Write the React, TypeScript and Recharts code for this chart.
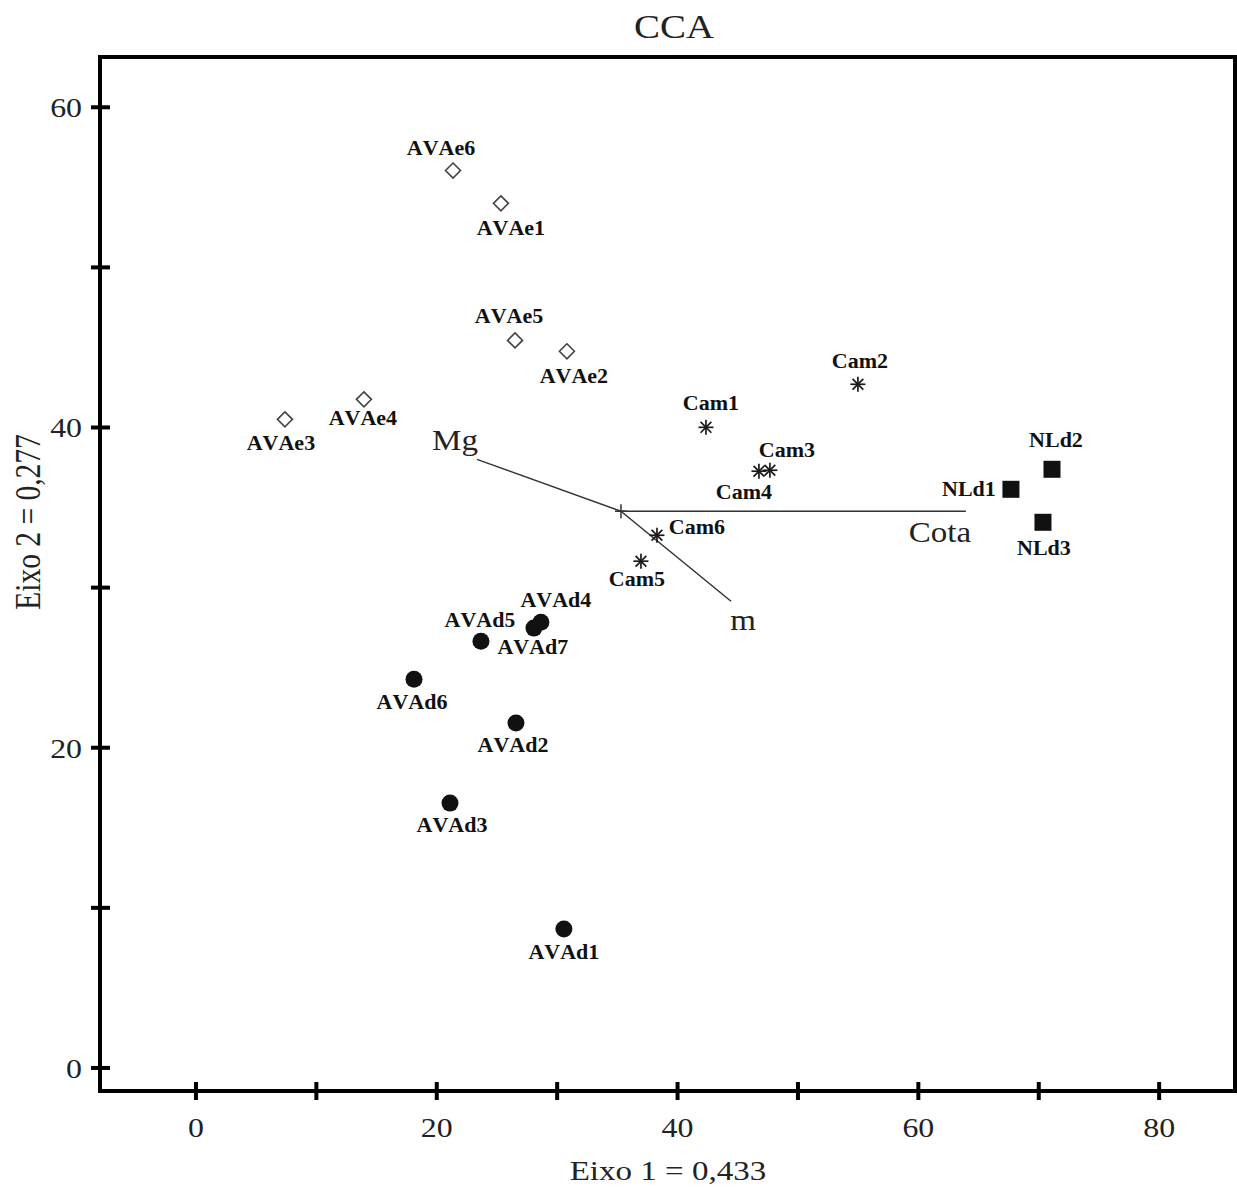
import { ReferenceLine, Scatter, ScatterChart, XAxis, YAxis } from "recharts";

const FONT = '"Liberation Serif", "Times New Roman", serif';
const INK = "#111";
const STRETCH = 1.18; // the source type is set a little wide

const xTicks = [0, 10, 20, 30, 40, 50, 60, 70, 80];
const yTicks = [0, 10, 20, 30, 40, 50, 60];
const xLabeled = [0, 20, 40, 60, 80];
const yLabeled = [0, 20, 40, 60];

// sites, grouped the way the plot marks them
const avaeNames = ["AVAe6", "AVAe1", "AVAe5", "AVAe2", "AVAe4", "AVAe3"];
const avaeX = [21.35, 25.33, 26.5, 30.81, 13.95, 7.39];
const avaeY = [56.05, 54.0, 45.44, 44.76, 41.76, 40.51];

const camNames = ["Cam1", "Cam2", "Cam3", "Cam4", "Cam6", "Cam5"];
const camX = [42.36, 54.98, 47.67, 46.76, 38.29, 36.96];
const camY = [40.01, 42.7, 37.33, 37.27, 33.27, 31.65];

const nldNames = ["NLd1", "NLd2", "NLd3"];
const nldX = [67.69, 71.1, 70.35];
const nldY = [36.14, 37.39, 34.08];

const avadNames = ["AVAd4", "AVAd7", "AVAd5", "AVAd6", "AVAd2", "AVAd3", "AVAd1"];
const avadX = [28.65, 28.07, 23.67, 18.11, 26.58, 21.1, 30.56];
const avadY = [27.84, 27.47, 26.65, 24.28, 21.54, 16.54, 8.68];

// environmental vectors (biplot arrows)
const vectorOrigin = { x: 35.3, y: 34.77 };
const vectorNames = ["Mg", "m", "Cota"];
const vectorX = [23.34, 44.44, 63.95];
const vectorY = [38.01, 29.15, 34.77];

// where each label sits relative to its mark (px)
const labelOffset: Record<string, [number, number]> = {
  AVAe6: [-12, -22],
  AVAe1: [10, 25],
  AVAe5: [-6, -24],
  AVAe2: [7, 25],
  AVAe4: [-1, 19],
  AVAe3: [-4, 24],
  Cam1: [5, -24],
  Cam2: [2, -23],
  Cam3: [17, -20],
  Cam4: [-15, 21],
  Cam6: [40, -8],
  Cam5: [-4, 18],
  NLd1: [-42, 0],
  NLd2: [4, -29],
  NLd3: [1, 26],
  AVAd4: [15, -22],
  AVAd7: [-1, 19],
  AVAd5: [-1, -21],
  AVAd6: [-2, 23],
  AVAd2: [-3, 22],
  AVAd3: [2, 22],
  AVAd1: [0, 23],
  Mg: [-22, -19],
  m: [12, 19],
  Cota: [-26, 21],
};

const X_MIN = -7.97;
const X_MAX = 86.3;
const Y_MIN = -1.44;
const Y_MAX = 63.14;

const zip = (names: string[], xs: number[], ys: number[]) =>
  names.map((name, i) => ({ name, x: xs[i], y: ys[i] }));

const avae = zip(avaeNames, avaeX, avaeY);
const cam = zip(camNames, camX, camY);
const nld = zip(nldNames, nldX, nldY);
const avad = zip(avadNames, avadX, avadY);
const vectors = zip(vectorNames, vectorX, vectorY);

const widen = (x: number, k: number) => `translate(${x} 0) scale(${k} 1) translate(${-x} 0)`;

function PointLabel({ cx, cy, name }: { cx: number; cy: number; name: string }) {
  const [dx, dy] = labelOffset[name] ?? [0, 20];
  return (
    <text
      x={cx + dx}
      y={cy + dy}
      textAnchor="middle"
      dominantBaseline="central"
      fontFamily={FONT}
      fontWeight="bold"
      fontSize={20}
      fill={INK}
      stroke="none"
      transform={widen(cx + dx, 1.1)}
      style={{ fontKerning: "none" }}
    >
      {name}
    </text>
  );
}

const diamondShape = (p: any) => {
  const { cx, cy, payload } = p;
  const h = 7.5;
  return (
    <g>
      <polygon
        points={`${cx},${cy - h} ${cx + h},${cy} ${cx},${cy + h} ${cx - h},${cy}`}
        fill="#fff"
        stroke="#444"
        strokeWidth={1.6}
      />
      <PointLabel cx={cx} cy={cy} name={payload.name} />
    </g>
  );
};

const asteriskShape = (p: any) => {
  const { cx, cy, payload } = p;
  const r = 7.5;
  const d = r * 0.72;
  return (
    <g>
      <g stroke="#1a1a1a" strokeWidth={1.7}>
        <line x1={cx} y1={cy - r} x2={cx} y2={cy + r} />
        <line x1={cx - r} y1={cy} x2={cx + r} y2={cy} />
        <line x1={cx - d} y1={cy - d} x2={cx + d} y2={cy + d} />
        <line x1={cx - d} y1={cy + d} x2={cx + d} y2={cy - d} />
      </g>
      <PointLabel cx={cx} cy={cy} name={payload.name} />
    </g>
  );
};

const squareShape = (p: any) => {
  const { cx, cy, payload } = p;
  const s = 17;
  return (
    <g>
      <rect x={cx - s / 2} y={cy - s / 2} width={s} height={s} fill={INK} />
      <PointLabel cx={cx} cy={cy} name={payload.name} />
    </g>
  );
};

const circleShape = (p: any) => {
  const { cx, cy, payload } = p;
  return (
    <g>
      <circle cx={cx} cy={cy} r={8.5} fill={INK} />
      <PointLabel cx={cx} cy={cy} name={payload.name} />
    </g>
  );
};

const vectorLabelShape = (p: any) => {
  const { cx, cy, payload } = p;
  const [dx, dy] = labelOffset[payload.name] ?? [0, 0];
  return (
    <text
      x={cx + dx}
      y={cy + dy}
      textAnchor="middle"
      dominantBaseline="central"
      fontFamily={FONT}
      fontSize={30}
      fill="#222"
      transform={widen(cx + dx, 1.1)}
    >
      {payload.name}
    </text>
  );
};

const originShape = (p: any) => {
  const { cx, cy } = p;
  return (
    <g stroke="#333" strokeWidth={1.5}>
      <line x1={cx - 6} y1={cy} x2={cx + 6} y2={cy} />
      <line x1={cx} y1={cy - 7} x2={cx} y2={cy + 7} />
    </g>
  );
};

const XTick = (p: any) => {
  const { x, y, payload } = p;
  return (
    <g>
      <line x1={x} y1={y - 9} x2={x} y2={y + 9} stroke="#000" strokeWidth={4} />
      {xLabeled.includes(payload.value) && (
        <text
          x={x}
          y={y + 46}
          textAnchor="middle"
          fontFamily={FONT}
          fontSize={27}
          fill="#222"
          transform={widen(x, STRETCH)}
        >
          {payload.value}
        </text>
      )}
    </g>
  );
};

const YTick = (p: any) => {
  const { x, y, payload } = p;
  return (
    <g>
      <line x1={x - 9} y1={y} x2={x + 10} y2={y} stroke="#000" strokeWidth={4} />
      {yLabeled.includes(payload.value) && (
        <text
          x={x - 18}
          y={y + 10}
          textAnchor="end"
          fontFamily={FONT}
          fontSize={27}
          fill="#222"
          transform={widen(x - 18, STRETCH)}
        >
          {payload.value}
        </text>
      )}
    </g>
  );
};

const frame = { stroke: "#000", strokeWidth: 4, strokeLinecap: "square" as const };

export default function App() {
  return (
    <div style={{ position: "absolute", left: 0, top: 0, width: 1237, height: 1187, background: "#fff" }}>
      <div
        style={{
          position: "absolute",
          left: 574,
          top: 11,
          width: 200,
          textAlign: "center",
          fontFamily: FONT,
          fontSize: 33,
          lineHeight: 1,
          color: "#222",
          transform: `scaleX(${STRETCH})`,
        }}
      >
        CCA
      </div>
      <div
        style={{
          position: "absolute",
          left: 518,
          top: 1157,
          width: 300,
          textAlign: "center",
          fontFamily: FONT,
          fontSize: 28,
          lineHeight: 1,
          color: "#222",
          transform: `scaleX(${STRETCH})`,
        }}
      >
        Eixo 1 = 0,433
      </div>
      <div
        style={{
          position: "absolute",
          left: 28 - 150,
          top: 522 - 15,
          width: 300,
          height: 30,
          lineHeight: "30px",
          textAlign: "center",
          fontFamily: FONT,
          fontSize: 29.5,
          color: "#222",
          transform: `rotate(-90deg) scale(1, ${STRETCH})`,
        }}
      >
        Eixo 2 = 0,277
      </div>

      <ScatterChart width={1237} height={1187} margin={{ top: 57, right: 2, bottom: 0, left: 0 }}>
        <XAxis
          type="number"
          dataKey="x"
          domain={[X_MIN, X_MAX]}
          ticks={xTicks}
          interval={0}
          allowDataOverflow
          height={96}
          tickSize={0}
          tickMargin={0}
          tickLine={false}
          axisLine={frame}
          tick={XTick}
        />
        <YAxis
          type="number"
          dataKey="y"
          domain={[Y_MIN, Y_MAX]}
          ticks={yTicks}
          interval={0}
          allowDataOverflow
          width={100}
          tickSize={0}
          tickMargin={0}
          tickLine={false}
          axisLine={frame}
          tick={YTick}
        />
        <ReferenceLine y={Y_MAX} {...frame} />
        <ReferenceLine x={X_MAX} {...frame} />

        {vectors.map((v) => (
          <ReferenceLine
            key={v.name}
            segment={[vectorOrigin, { x: v.x, y: v.y }]}
            stroke="#333"
            strokeWidth={1.5}
          />
        ))}
        <Scatter data={[vectorOrigin]} shape={originShape} isAnimationActive={false} />
        <Scatter data={vectors} shape={vectorLabelShape} isAnimationActive={false} />

        <Scatter data={avae} shape={diamondShape} isAnimationActive={false} />
        <Scatter data={cam} shape={asteriskShape} isAnimationActive={false} />
        <Scatter data={nld} shape={squareShape} isAnimationActive={false} />
        <Scatter data={avad} shape={circleShape} isAnimationActive={false} />
      </ScatterChart>
    </div>
  );
}
